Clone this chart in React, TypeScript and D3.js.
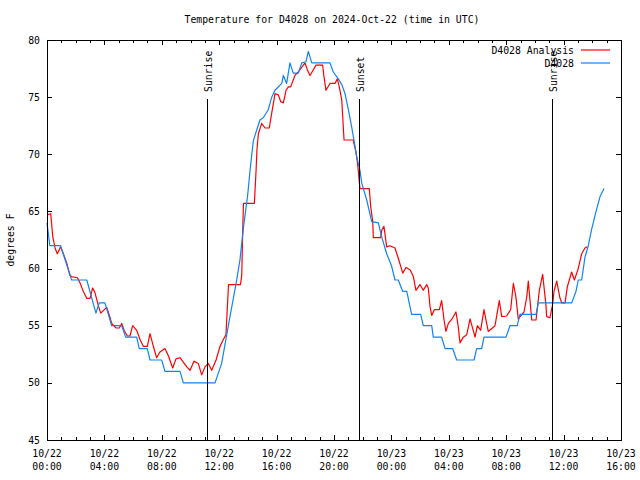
import React from 'react';
import * as d3 from 'd3';

// ---- data ----
const xTickHours = [0, 4, 8, 12, 16, 20, 24, 28, 32, 36, 40];
const xTickDates = ['10/22', '10/22', '10/22', '10/22', '10/22', '10/22', '10/23', '10/23', '10/23', '10/23', '10/23'];
const xTickTimes = ['00:00', '04:00', '08:00', '12:00', '16:00', '20:00', '00:00', '04:00', '08:00', '12:00', '16:00'];
const yTicks = [45, 50, 55, 60, 65, 70, 75, 80];

const eventNames = ['Sunrise', 'Sunset', 'Sunrise'];
const eventHours = [11.17, 21.77, 35.2];

const analysisHours = [
  0, 0.26, 0.4, 0.56, 0.72, 0.95, 1.14, 1.37, 1.6, 1.72, 2.11, 2.25, 2.53, 2.77, 3.0, 3.18, 3.34, 3.57, 3.74,
  4.16, 4.27, 4.51, 4.81, 5.04, 5.21, 5.37, 5.6, 5.78, 5.97, 6.25, 6.48, 6.71, 6.99, 7.18, 7.41, 7.64, 7.87,
  8.22, 8.45, 8.76, 8.99, 9.27, 9.74, 9.97, 10.24, 10.54, 10.78, 11.01, 11.24, 11.48, 11.78, 12.06, 12.29,
  12.47, 12.56, 12.65, 13.48, 13.57, 13.64, 13.69, 14.45, 14.57, 14.63, 14.73, 14.96, 15.19, 15.49, 15.66,
  15.89, 16.12, 16.29, 16.47, 16.66, 16.82, 16.98, 17.28, 17.51, 17.68, 17.98, 18.14, 18.33, 18.56, 18.75,
  19.21, 19.3, 19.44, 19.72, 20.07, 20.23, 20.37, 20.54, 20.7, 21.34, 21.53, 21.62, 21.69, 21.76, 21.81,
  22.46, 22.56, 22.7, 22.74, 23.25, 23.34, 23.48, 23.67, 23.9, 24.25, 24.48, 24.79, 25.02, 25.3, 25.53,
  25.71, 25.99, 26.22, 26.46, 26.57, 26.69, 26.81, 26.99, 27.34, 27.5, 27.67, 27.8, 27.97, 28.2, 28.5,
  28.66, 28.78, 29.01, 29.25, 29.48, 29.83, 29.99, 30.22, 30.45, 30.75, 31.22, 31.52, 31.69, 32.03, 32.31,
  32.5, 32.68, 32.84, 33.24, 33.43, 33.54, 33.78, 34.08, 34.31, 34.54, 34.77, 34.82, 35.05, 35.24, 35.33,
  35.52, 35.75, 35.87, 36.1, 36.26, 36.56, 36.75, 37.02, 37.26, 37.49, 37.63,
];
const analysisTemps = [
  64.7, 64.8, 62.8, 61.8, 61.3, 61.9, 61.3, 60.5, 59.4, 59.3, 59.2, 58.9, 58.0, 57.4, 57.4, 58.3, 57.9, 56.8, 56.1,
  56.6, 56.2, 55.2, 54.8, 54.8, 55.2, 54.6, 54.1, 54.1, 55.0, 54.6, 53.8, 53.2, 53.2, 54.3, 53.2, 52.2, 52.7,
  53.0, 52.4, 51.3, 52.1, 52.2, 51.4, 51.1, 51.9, 51.7, 50.7, 51.4, 51.7, 51.1, 52.0, 53.2, 53.8,
  54.2, 56.4, 58.6, 58.6, 59.4, 63.4, 65.7, 65.7, 68.6, 70.4, 71.8, 72.7, 72.3, 72.3, 73.6,
  75.3, 75.2, 74.6, 74.5, 75.6, 75.9, 75.9, 76.9, 77.2, 77.5, 78.0, 77.4, 76.9, 77.4, 77.8,
  77.8, 76.8, 75.6, 76.2, 76.2, 76.6, 75.9, 74.75, 71.25, 71.25, 70.2, 69.4, 68.6, 67.6, 67.0,
  67.0, 65.4, 64.1, 62.7, 62.7, 63.4, 63.7, 61.9, 62.0, 61.8, 60.9, 59.6, 60.1, 59.9, 59.3,
  58.1, 58.6, 58.1, 58.6, 58.3, 56.7, 55.9, 56.4, 56.4, 57.2, 55.5, 54.5, 55.2, 55.55, 56.2,
  54.9, 53.5, 54.0, 54.2, 55.6, 54.0, 55.0, 54.6, 56.4, 54.5, 55.0, 57.2, 55.8, 55.85, 56.4,
  58.7, 57.5, 55.6, 56.2, 57.5, 58.9, 55.5, 55.5, 58.1, 59.5, 56.8, 55.8, 55.7, 56.9, 58.0,
  58.9, 57.4, 57.0, 57.0, 58.4, 59.7, 59.0, 60.0, 61.3, 61.8, 61.9,
];

const stationHours = [
  0, 0.2, 0.95, 1.46, 1.72, 2.77, 3.41, 3.64, 4.04, 4.51, 5.21, 5.48, 6.25, 6.43, 6.99, 7.18, 7.99, 8.22, 9.27,
  9.5, 11.71, 12.17, 12.75, 13.22, 13.45, 13.68, 13.99, 14.15, 14.38, 14.84, 15.07, 15.42, 15.66, 15.89,
  16.36, 16.47, 16.7, 16.93, 17.16, 17.51, 17.75, 18.05, 18.21, 18.45, 19.72, 19.95, 20.3, 20.54, 20.77,
  21.0, 21.23, 21.39, 21.58, 21.81, 21.93, 22.28, 22.63, 23.09, 23.32, 23.67, 24.02, 24.25, 24.48, 24.79,
  25.07, 25.41, 26.04, 26.22, 26.81, 26.92, 27.5, 27.74, 28.27, 28.55, 29.76, 29.94, 30.29, 30.45, 31.99,
  32.26, 32.77, 32.96, 34.08, 34.24, 36.56, 36.86, 37.02, 37.26, 37.49, 37.72, 37.95, 38.26, 38.54, 38.82,
];
const stationTemps = [
  64.0, 62, 62, 60, 59, 59, 56.1, 57, 57, 55, 55, 54, 54, 53, 53, 52, 52, 51, 51,
  50, 50, 51.7, 55.8, 59, 60.8, 63.5, 66.5, 68.6, 71.2, 73, 73.2, 73.9, 75, 75.6,
  76.2, 76.9, 76.2, 78, 77.1, 77.1, 78, 78.1, 79, 78, 78, 77.2, 76.6, 76.1, 75.3,
  73.9, 72.4, 71.25, 69.8, 68.6, 67.5, 66, 64.1, 64, 62.8, 61.3, 60.2, 59, 59, 58,
  58, 56, 56, 55, 55, 54, 54, 53, 53, 52, 52, 53, 53, 54, 54,
  55, 55, 56, 56, 57, 57, 58, 59, 59, 61, 62, 63.4, 65, 66.3, 67,
];

const seriesNames = ['D4028 Analysis', 'D4028'];
const seriesColors = ['#ff0000', '#0f84f0'];

const FONT = '"DejaVu Sans Mono", "Liberation Mono", monospace';

export default function App() {
  const left = 47, right = 621, top = 40, bottom = 440;
  const x = d3.scaleLinear().domain([0, 40]).range([left, right]);
  const y = d3.scaleLinear().domain([45, 80]).range([bottom, top]);

  const line = d3.line<[number, number]>().x(d => x(d[0])).y(d => y(d[1]));
  const analysisPath = line(analysisHours.map((h, i) => [h, analysisTemps[i]] as [number, number])) || '';
  const stationPath = line(stationHours.map((h, i) => [h, stationTemps[i]] as [number, number])) || '';

  const minorHours = d3.range(0, 41, 1);
  const eventTop = 99;
  const fs = 9.8;

  return (
    <svg width={640} height={480} style={{ position: 'absolute', left: 0, top: 0, background: '#fff' }}
      fontFamily={FONT} fontSize={fs}>
      <rect x={0} y={0} width={640} height={480} fill="#fff" />
      {/* title */}
      <text x={332} y={23} textAnchor="middle">Temperature for D4028 on 2024-Oct-22 (time in UTC)</text>
      {/* y label */}
      <text transform="translate(14,240) rotate(-90)" textAnchor="middle">degrees F</text>

      {/* ticks */}
      <g stroke="#000" strokeWidth={1} shapeRendering="crispEdges">
        {minorHours.map(h => {
          const major = h % 4 === 0;
          const len = major ? 5 : 3;
          const xx = Math.round(x(h)) + 0.5;
          return (
            <g key={'t' + h}>
              <line x1={xx} x2={xx} y1={bottom} y2={bottom - len} />
              <line x1={xx} x2={xx} y1={top} y2={top + len} />
            </g>
          );
        })}
        {yTicks.map(v => {
          const yy = Math.round(y(v)) + 0.5;
          return (
            <g key={'y' + v}>
              <line x1={left} x2={left + 5} y1={yy} y2={yy} />
              <line x1={right} x2={right - 5} y1={yy} y2={yy} />
            </g>
          );
        })}
      </g>

      {/* y tick labels */}
      {yTicks.map(v => (
        <text key={'yl' + v} x={40} y={y(v) + 3.5} textAnchor="end">{v}</text>
      ))}
      {/* x tick labels */}
      {xTickHours.map((h, i) => (
        <g key={'xl' + h}>
          <text x={x(h)} y={457} textAnchor="middle">{xTickDates[i]}</text>
          <text x={x(h)} y={470} textAnchor="middle">{xTickTimes[i]}</text>
        </g>
      ))}

      {/* data */}
      <path d={analysisPath} fill="none" stroke={seriesColors[0]} strokeWidth={1.2} strokeLinejoin="round" />
      <path d={stationPath} fill="none" stroke={seriesColors[1]} strokeWidth={1.2} strokeLinejoin="round" />

      {/* events */}
      {eventHours.map((h, i) => {
        const xx = Math.round(x(h)) + 0.5;
        return (
          <g key={'e' + i}>
            <line x1={xx} x2={xx} y1={eventTop} y2={bottom} stroke="#000" strokeWidth={1} shapeRendering="crispEdges" />
            <text transform={`translate(${xx + 4},${eventTop - 7}) rotate(-90)`} textAnchor="start">{eventNames[i]}</text>
          </g>
        );
      })}

      {/* legend */}
      {seriesNames.map((n, i) => (
        <g key={'lg' + i}>
          <text x={574} y={53.5 + i * 13} textAnchor="end">{n}</text>
          <line x1={581} x2={610} y1={50 + i * 13} y2={50 + i * 13} stroke={seriesColors[i]} strokeWidth={1.2} />
        </g>
      ))}

      {/* border */}
      <rect x={left + 0.5} y={top + 0.5} width={right - left} height={bottom - top} fill="none" stroke="#000"
        strokeWidth={1} shapeRendering="crispEdges" />
    </svg>
  );
}
